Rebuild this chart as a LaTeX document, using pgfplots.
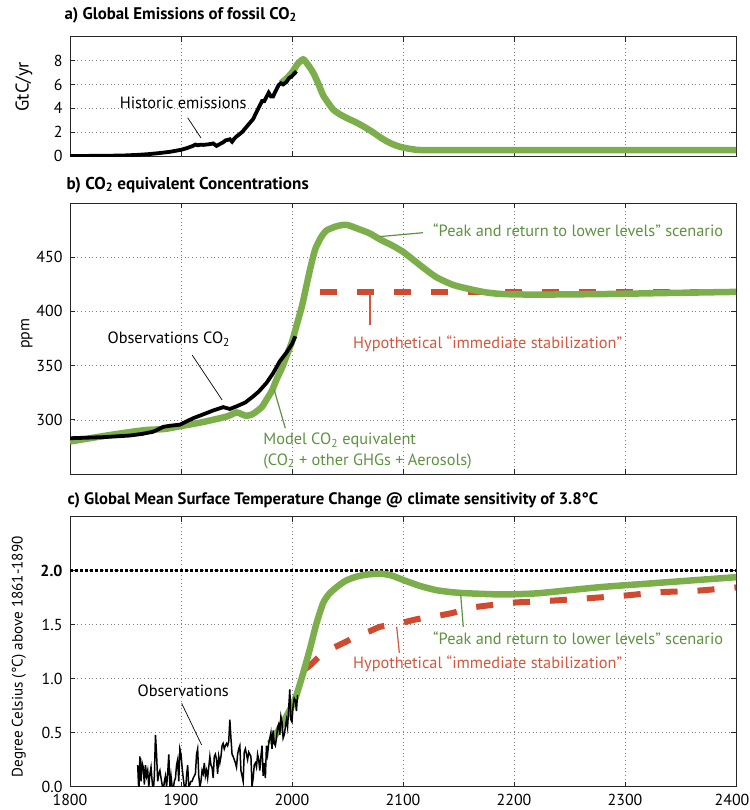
\documentclass[border=0pt]{standalone}
\usepackage{fontspec}
\setmainfont{PT Sans}
\usepackage{pgfplots}
\pgfplotsset{compat=1.18}

\definecolor{cgreen}{HTML}{7CAF4C}
\definecolor{cgreentxt}{HTML}{5E9240}
\definecolor{cred}{HTML}{D04A30}
\definecolor{credtxt}{HTML}{D4563E}

\newcommand{\annot}{\fontsize{16.4}{18}\selectfont}

\pgfplotsset{
  panel/.style={
    scale only axis, width=666bp,
    xmin=1800, xmax=2400, xtick={1800,1900,...,2400},
    tick align=inside, tick pos=both, major tick length=5bp,
    xmajorgrids, ymajorgrids,
    major grid style={black!50, line width=0.6bp, dash pattern=on 0.7bp off 3bp},
    axis line style={black!85, line width=0.8bp},
    every tick/.style={black!85, line width=0.8bp},
    tick label style={font=\fontsize{16}{18}\selectfont},
    /pgf/number format/assume math mode=true,
    /pgf/number format/1000 sep={},
    yticklabel style={xshift=-4bp},
    title style={at={(axis description cs:0,1)}, anchor=base west},
    ylabel style={anchor=center},
  },
}

\begin{document}
\begin{tikzpicture}
\useasboundingbox (0,0) rectangle (750bp,-810bp);

% ---------- a) emissions
\begin{axis}[panel, at={(70bp,-36.7bp)}, anchor=north west, height=119.3bp,
  ymin=0, ymax=10, ytick={0,2,...,8}, xticklabels={},
  title={a) Global Emissions of fossil CO\textsubscript{2}},
  title style={xshift=-9bp, yshift=11.7bp, font=\bfseries\fontsize{16.9}{18}\selectfont},
  ylabel={GtC/yr}, ylabel style={at={(axis description cs:-0.069,0.58)},
    font=\fontsize{18.5}{20}\selectfont},
]
\addplot[cgreen, line width=6.5bp, smooth, tension=0.4] coordinates {
  (1990,6.1) (1995,6.5) (2000,7.0) (2005,7.7) (2010,8.1) (2014,7.7)
  (2019,7.0) (2024,6.0) (2028,5.1) (2033,4.4) (2037,3.9) (2043,3.5)
  (2049,3.2) (2057,2.85) (2064,2.5) (2072,2.05) (2079,1.6) (2085,1.25)
  (2091,0.98) (2097,0.78) (2103,0.65) (2110,0.55) (2118,0.5) (2200,0.5)
  (2300,0.5) (2400,0.5)};
\addplot[black, line width=3.8bp] coordinates {
  (1800,0.0) (1820,0.01) (1840,0.03) (1850,0.05) (1860,0.09) (1870,0.15)
  (1880,0.24) (1890,0.35) (1900,0.52) (1905,0.65) (1910,0.82) (1913,0.96)
  (1915,0.90) (1918,0.95) (1920,0.93) (1925,0.98) (1929,1.05) (1932,0.85)
  (1935,1.0) (1938,1.15) (1940,1.30) (1942,1.35) (1944,1.40) (1946,1.20)
  (1948,1.45) (1950,1.63) (1955,2.0) (1960,2.55) (1965,3.1) (1970,4.05)
  (1973,4.6) (1975,4.6) (1977,4.95) (1979,5.3) (1981,5.0) (1983,5.0)
  (1985,5.4) (1988,5.95) (1990,6.1) (1992,6.0) (1995,6.2) (1997,6.5)
  (2000,6.7) (2003,7.0) (2004,7.1)};
\node[anchor=center, font=\annot] at (axis cs:1902,4.5) {Historic emissions};
\draw[black, line width=0.7bp] (axis cs:1906,3.2) -- (axis cs:1918,1.52);
\end{axis}

% ---------- b) concentrations
\begin{axis}[panel, at={(70bp,-203bp)}, anchor=north west, height=271bp,
  ymin=250, ymax=500, ytick={300,350,...,450}, xticklabels={},
  title={b) CO\textsubscript{2} equivalent Concentrations},
  title style={xshift=-7bp, yshift=8bp, font=\bfseries\fontsize{17.2}{19}\selectfont},
  ylabel={ppm}, ylabel style={at={(axis description cs:-0.0646,0.517)},
    font=\fontsize{16}{18}\selectfont},
]
\addplot[cred, line width=6bp, dash pattern=on 17bp off 20bp] coordinates {
  (2025,418) (2400,418)};
\addplot[cgreen, line width=6.5bp, smooth, tension=0.4] coordinates {
  (1800,280) (1830,285) (1856,289) (1870,290.7) (1885,291.5) (1899,294)
  (1920,298) (1941,303) (1950,306.8) (1955,305) (1959,303.7) (1964,305)
  (1968,307.7) (1973,312) (1977,318.6) (1982,327) (1986,337) (1991,348)
  (1995,358.7) (2000,372) (2004,386.6) (2009,405) (2013,423.7) (2017,442)
  (2021,457.6) (2026,468) (2031,474.6) (2040,478.5) (2049,479.9) (2060,476)
  (2070,472) (2080,466) (2090,461) (2100,455) (2110,447) (2120,439)
  (2130,431.6) (2145,424.5) (2160,420.6) (2175,417.5) (2190,416) (2220,415.5)
  (2280,416) (2340,417) (2400,418)};
\addplot[black, line width=3.8bp] coordinates {
  (1800,283) (1830,284) (1854,285.5) (1865,287) (1875,289) (1884,293.5)
  (1890,294.5) (1899,295.5) (1905,298.5) (1911,301.5) (1920,305) (1929,308.6)
  (1938,311.7) (1944,310) (1950,312.4) (1958,316) (1965,321.6) (1970,326)
  (1977,334) (1983,343) (1989,354) (1995,362) (2000,370) (2003,377)};
\node[anchor=base, font=\annot] at (axis cs:1889,370) {Observations CO\textsubscript{2}};
\draw[black, line width=0.7bp] (axis cs:1910,359.8) -- (axis cs:1937,318.3);
\node[anchor=base west, font=\annot, text=cgreentxt] at (axis cs:1971,276.8)
  {Model CO\textsubscript{2} equivalent};
\node[anchor=base west, font=\annot, text=cgreentxt] at (axis cs:1971,258.3)
  {(CO\textsubscript{2} + other GHGs + Aerosols)};
\draw[cgreentxt, line width=1.2bp] (axis cs:1984,327.5) -- (axis cs:1994,292.2);
\node[anchor=base west, font=\annot, text=credtxt] at (axis cs:2052,366)
  {Hypothetical “immediate stabilization”};
\draw[credtxt, line width=1.2bp] (axis cs:2070.3,416.7) -- (axis cs:2070.3,387.5);
\node[anchor=base west, font=\annot, text=cgreentxt] at (axis cs:2124,469)
  {“Peak and return to lower levels” scenario};
\draw[cgreentxt, line width=1.2bp] (axis cs:2079,469) -- (axis cs:2118,472.6);
\end{axis}

% ---------- c) temperature
\begin{axis}[panel, at={(70bp,-516.7bp)}, anchor=north west, height=270bp,
  ymin=0, ymax=2.5, ytick={0,0.5,1,1.5,2},
  yticklabels={0.0,0.5,1.0,1.5,\textbf{2.0}},
  xticklabels={1800,1900,2000,2100,2200,2300,\hspace*{-8bp}2400},
  xticklabel style={yshift=-4bp},
  title={c) Global Mean Surface Temperature Change @ climate sensitivity of 3.8°C},
  title style={xshift=-6bp, yshift=6.7bp, font=\bfseries\fontsize{16.7}{18}\selectfont},
  ylabel={Degree Celsius (°C) above 1861-1890},
  ylabel style={at={(axis description cs:-0.0766,0.481)},
    font=\fontsize{15.2}{17}\selectfont},
]
\addplot[black, line width=2.5bp, dash pattern=on 2.5bp off 2.5bp] coordinates {
  (1800,2) (2400,2)};
\addplot[cred, line width=6bp, dash pattern=on 17bp off 20bp, smooth, tension=0.4] coordinates {
  (2012,1.09) (2017,1.13) (2025,1.21) (2032,1.26) (2040,1.30) (2050,1.35)
  (2061,1.41) (2070,1.44) (2079,1.48) (2090,1.50) (2100,1.52) (2112,1.55)
  (2130,1.58) (2145,1.61) (2160,1.655) (2178,1.68) (2200,1.705) (2230,1.72)
  (2260,1.74) (2300,1.77) (2330,1.80) (2365,1.815) (2400,1.845)};
\addplot[cgreen, line width=6.5bp, smooth, tension=0.4] coordinates {
  (1980,0.40) (1990,0.56) (2001,0.77) (2005,0.88) (2010,1.05) (2016,1.27)
  (2022,1.51) (2028,1.70) (2033,1.78) (2037,1.82) (2043,1.87) (2049,1.91)
  (2058,1.945) (2068,1.965) (2080,1.972) (2090,1.955) (2100,1.915) (2115,1.86)
  (2130,1.82) (2145,1.80) (2160,1.79) (2190,1.78) (2220,1.79) (2250,1.82)
  (2280,1.85) (2320,1.88) (2360,1.91) (2400,1.94)};
\addplot[black, line width=1.5bp] coordinates {
  (1861,0.20) (1862,-0.05) (1863,0.28) (1864,0.05) (1865,0.22) (1866,0.18)
  (1867,0.02) (1868,0.20) (1869,0.10) (1870,0.15) (1871,0.00) (1872,0.12)
  (1873,0.18) (1874,0.05) (1875,-0.05) (1876,0.10) (1877,0.48) (1878,0.30)
  (1879,0.05) (1880,0.12) (1881,0.15) (1882,0.08) (1883,0.02) (1884,-0.05)
  (1885,0.05) (1886,0.10) (1887,0.00) (1888,0.12) (1889,0.30) (1890,0.00)
  (1891,0.10) (1892,0.00) (1893,-0.02) (1894,0.05) (1895,0.08) (1896,0.20)
  (1897,0.25) (1898,0.05) (1899,0.35) (1900,0.30) (1901,0.18) (1902,0.08)
  (1903,0.00) (1904,-0.05) (1905,0.10) (1906,0.20) (1907,0.00) (1908,0.02)
  (1909,0.05) (1910,0.05) (1911,0.08) (1912,0.10) (1913,0.12) (1914,0.30)
  (1915,0.35) (1916,0.10) (1917,0.00) (1918,0.05) (1919,0.15) (1920,0.12)
  (1921,0.22) (1922,0.10) (1923,0.15) (1924,0.08) (1925,0.18) (1926,0.28)
  (1927,0.20) (1928,0.18) (1929,0.08) (1930,0.28) (1931,0.30) (1932,0.25)
  (1933,0.12) (1934,0.28) (1935,0.22) (1936,0.28) (1937,0.38) (1938,0.40)
  (1939,0.35) (1940,0.38) (1941,0.40) (1942,0.38) (1943,0.42) (1944,0.62)
  (1945,0.45) (1946,0.30) (1947,0.28) (1948,0.25) (1949,0.22) (1950,0.18)
  (1951,0.30) (1952,0.35) (1953,0.38) (1954,0.15) (1955,0.10) (1956,0.05)
  (1957,0.32) (1958,0.35) (1959,0.30) (1960,0.25) (1961,0.32) (1962,0.30)
  (1963,0.28) (1964,0.00) (1965,0.08) (1966,0.20) (1967,0.22) (1968,0.18)
  (1969,0.30) (1970,0.25) (1971,0.15) (1972,0.28) (1973,0.38) (1974,0.10)
  (1975,0.22) (1976,0.08) (1977,0.38) (1978,0.30) (1979,0.40) (1980,0.45)
  (1981,0.50) (1982,0.35) (1983,0.52) (1984,0.40) (1985,0.38) (1986,0.45)
  (1987,0.55) (1988,0.58) (1989,0.48) (1990,0.65) (1991,0.60) (1992,0.45)
  (1993,0.48) (1994,0.55) (1995,0.62) (1996,0.55) (1997,0.72) (1998,0.90)
  (1999,0.62) (2000,0.60) (2001,0.75) (2002,0.82) (2003,0.80) (2004,0.70)
  (2005,0.85)};
\node[anchor=base, font=\annot] at (axis cs:1902,0.833) {Observations};
\draw[black, line width=0.7bp] (axis cs:1900.6,0.772) -- (axis cs:1918.6,0.386);
\node[anchor=base west, font=\annot, text=cgreentxt] at (axis cs:2124,1.321)
  {“Peak and return to lower levels” scenario};
\draw[cgreentxt, line width=1.2bp] (axis cs:2152,1.775) -- (axis cs:2154.3,1.481);
\node[anchor=base west, font=\annot, text=credtxt] at (axis cs:2052,1.09)
  {Hypothetical “immediate stabilization”};
\draw[credtxt, line width=1.2bp] (axis cs:2094.3,1.481) -- (axis cs:2096.7,1.24);
\end{axis}
\end{tikzpicture}
\end{document}
